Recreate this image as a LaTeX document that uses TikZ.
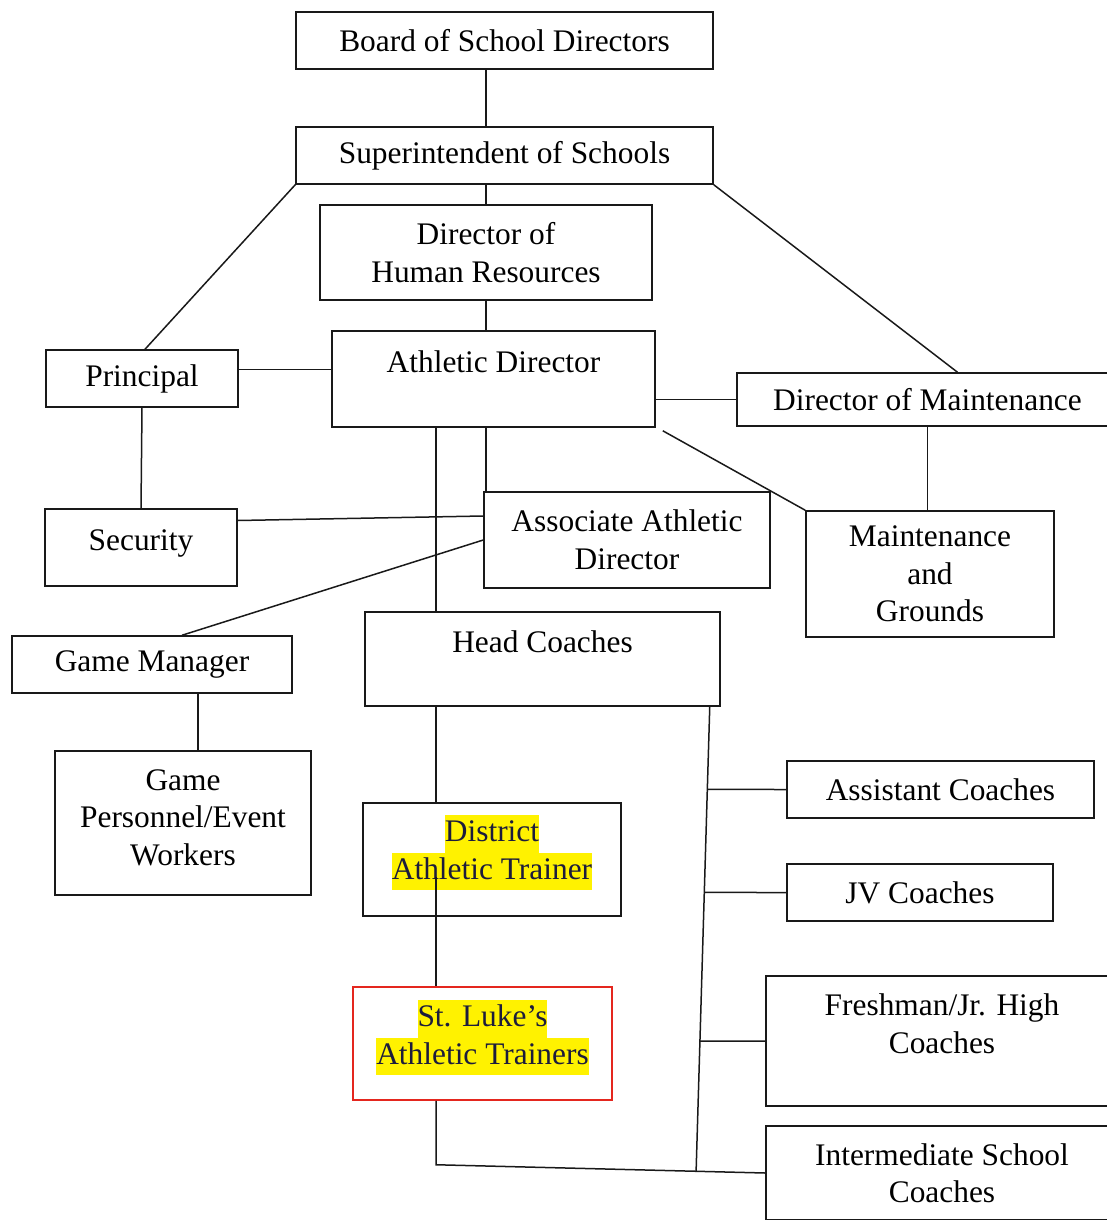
\documentclass[tikz,border=0pt]{standalone}
\usepackage{fontspec}
\setmainfont{Liberation Serif}
\usetikzlibrary{calc}
\definecolor{hlyellow}{RGB}{255,242,0}
\definecolor{inkblue}{RGB}{28,28,60}
\definecolor{framered}{RGB}{228,38,30}
\newcommand{\hilite}[1]{{\fboxsep=0pt\colorbox{hlyellow}{\strut #1}}}

\begin{document}
\begin{tikzpicture}[x=1pt,y=-1pt,
  box/.style={draw=black!90,line width=1.5pt,inner sep=0pt,align=center,
    font=\fontsize{31.4}{37.5}\selectfont},
  link/.style={draw=black!90,line width=1.5pt}]
\useasboundingbox (0,0) rectangle (1107,1220);

% top of the chart
\node[box,minimum width=417pt,minimum height=57pt] (board) at (504.5,40.5) {Board of School Directors};
\node[box,minimum width=417pt,minimum height=57pt] (super) at (504.5,155.5) {Superintendent of Schools};
\node[box,minimum width=332pt,minimum height=95pt] (hr) at (486,252.5) {Director of\\Human Resources};
\node[box,minimum width=323pt,minimum height=96pt] (ad) at (493.5,379) {Athletic Director\\[-3.5pt]\mbox{}};
\node[box,minimum width=192pt,minimum height=57pt] (principal) at (142,378.5) {Principal};
\node[box,minimum width=381pt,minimum height=53pt] (dom) at (927.5,399.5) {Director of Maintenance};

% middle row
\node[box,minimum width=192pt,minimum height=77pt] (security) at (141,547.5) {Security\\[-22pt]\mbox{}};
\node[box,minimum width=286pt,minimum height=96pt] (assoc) at (627,540) {Associate Athletic\\Director};
\node[box,minimum width=248pt,minimum height=126pt] (grounds) at (930,574) {Maintenance\\and\\Grounds};
\node[box,minimum width=280pt,minimum height=57pt] (gamemgr) at (152,664.5) {Game Manager};
\node[box,minimum width=355pt,minimum height=94pt] (head) at (542.5,659) {Head Coaches\\[-3.5pt]\mbox{}};
\node[box,minimum width=256pt,minimum height=144pt] (workers) at (183,823) {Game\\Personnel/Event\\Workers\\[-26.5pt]\mbox{}};

% trainers
\node[box,text=inkblue,minimum width=258pt,minimum height=113pt] (district) at (492,859.5)
  {\hilite{District}\\\hilite{Athletic Trainer}\\[-13pt]\mbox{}};
\node[box,draw=framered,text=inkblue,minimum width=259pt,minimum height=113pt] (stluke) at (482.5,1043.5)
  {\hilite{St. Luke’s}\\\hilite{Athletic Trainers}\\[-15pt]\mbox{}};

% coaches
\node[box,minimum width=307pt,minimum height=57pt] (assist) at (940.5,789.5) {Assistant Coaches};
\node[box,minimum width=266pt,minimum height=57pt] (jv) at (920,892.5) {JV Coaches};
\node[box,minimum width=352pt,minimum height=130pt] (fresh) at (942,1041) {Freshman/Jr. High\\Coaches\\[-2.5pt]\mbox{}};
\node[box,minimum width=352pt,minimum height=94pt] (inter) at (942,1173) {Intermediate School\\Coaches};

\coordinate (spine) at (436,0);
\coordinate (trunktop) at ([xshift=-11pt]head.south east);

\draw[link] (board.south -| hr.north) -- (super.north -| hr.north);
\draw[link] (super.south -| hr.north) -- (hr.north);
\draw[link] (hr.south) -- (ad.north -| hr.south);
\draw[link] (super.south west) -- ([xshift=3pt]principal.north);
\draw[link] (super.south east) -- ([xshift=30pt]dom.north);
\draw[link] ([yshift=9pt]principal.east) coordinate (pa) -- (pa -| ad.west);
\draw[link] (dom.west -| ad.east) -- (dom.west);
\draw[link] ([shift={(7pt,-3pt)}]ad.south east) -- (grounds.north west);
\draw[link] (dom.south) -- (dom.south |- grounds.north);
\draw[link] (ad.south -| hr.south) -- (assoc.north -| hr.south);
\draw[link] (ad.south -| spine) -- (head.north -| spine);
\draw[link] ([yshift=27pt]security.east) -- ([yshift=24pt]assoc.west);
\draw[link] (principal.south) -- (security.north);
\draw[link] (assoc.west) -- ([xshift=30pt]gamemgr.north);
\draw[link] ([xshift=46pt]gamemgr.south) coordinate (gw) -- (gw |- workers.north);
\draw[link] (head.south -| spine) -- (district.north -| spine);
\draw[link] ($(district.center -| spine)+(0,17)$) -- (stluke.north -| spine);
\draw[link] (stluke.south -| spine) -- ++(0,64) coordinate (bend) -- (inter.west);
\coordinate (trunkbot) at ($(bend)!0.79!(inter.west)$);
\draw[link] (trunktop) -- (trunkbot);
\foreach \n in {assist,jv,fresh}
  \draw[link] (intersection of trunktop--trunkbot and \n.west--\n.east) -- (\n.west);
\end{tikzpicture}
\end{document}
